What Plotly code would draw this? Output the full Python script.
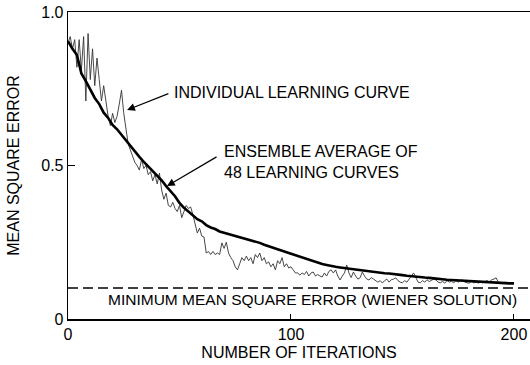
import plotly.graph_objects as go

# ---- data ----
# Individual learning curve (one adaptive run)
indiv_x = list(range(0, 201))
indiv_y = [
    0.90, 0.92, 0.88, 0.91, 0.82, 0.91, 0.81, 0.92, 0.71, 0.93,
    0.78, 0.88, 0.76, 0.85, 0.78, 0.71, 0.76, 0.70, 0.66, 0.63,
    0.67, 0.64, 0.66, 0.70, 0.745, 0.67, 0.62, 0.57, 0.55, 0.53,
    0.51, 0.50, 0.485, 0.52, 0.49, 0.50, 0.47, 0.48, 0.45, 0.47,
    0.44, 0.475, 0.42, 0.39, 0.41, 0.37, 0.365, 0.38, 0.36, 0.35,
    0.37, 0.33, 0.35, 0.37, 0.36, 0.365, 0.34, 0.31, 0.28, 0.296,
    0.27, 0.267, 0.215, 0.22, 0.21, 0.22, 0.21, 0.215, 0.21, 0.248,
    0.23, 0.25, 0.215, 0.20, 0.19, 0.17, 0.16, 0.18, 0.20, 0.19,
    0.205, 0.19, 0.20, 0.18, 0.21, 0.20, 0.215, 0.19, 0.20, 0.18,
    0.186, 0.17, 0.18, 0.16, 0.19, 0.18, 0.20, 0.17, 0.18, 0.166,
    0.17, 0.16, 0.15, 0.15, 0.143, 0.15, 0.145, 0.155, 0.14, 0.15,
    0.153, 0.14, 0.145, 0.14, 0.137, 0.15, 0.14, 0.155, 0.16, 0.15,
    0.16, 0.14, 0.127, 0.14, 0.15, 0.176, 0.15, 0.135, 0.153, 0.14,
    0.13, 0.134, 0.153, 0.14, 0.13, 0.127, 0.135, 0.13, 0.125, 0.12,
    0.125, 0.117, 0.125, 0.13, 0.12, 0.128, 0.13, 0.134, 0.125, 0.12,
    0.118, 0.125, 0.12, 0.13, 0.14, 0.15, 0.135, 0.12, 0.118, 0.125,
    0.12, 0.128, 0.122, 0.125, 0.13, 0.127, 0.12, 0.118, 0.122, 0.117,
    0.125, 0.12, 0.123, 0.118, 0.125, 0.12, 0.125, 0.127, 0.12, 0.118,
    0.117, 0.122, 0.118, 0.12, 0.117, 0.12, 0.118, 0.122, 0.125, 0.12,
    0.128, 0.13, 0.134, 0.12, 0.117, 0.118, 0.12, 0.117, 0.118, 0.117,
    0.117,
]

# Ensemble average of 48 learning curves
ens_x = list(range(0, 201, 2))
ens_y = [
    0.905, 0.88, 0.86, 0.80, 0.775, 0.745, 0.72, 0.70, 0.672, 0.655,
    0.632, 0.618, 0.60, 0.583, 0.562, 0.545, 0.528, 0.512, 0.497, 0.483,
    0.47, 0.452, 0.433, 0.418, 0.40, 0.378, 0.362, 0.35, 0.336, 0.325,
    0.318, 0.306, 0.298, 0.293, 0.285, 0.281, 0.276, 0.273, 0.268, 0.266,
    0.262, 0.258, 0.252, 0.248, 0.242, 0.238, 0.232, 0.227, 0.222, 0.217,
    0.212, 0.208, 0.203, 0.197, 0.192, 0.187, 0.183, 0.179, 0.176, 0.172,
    0.170, 0.168, 0.166, 0.164, 0.161, 0.159, 0.157, 0.155, 0.153, 0.151,
    0.150, 0.149, 0.148, 0.147, 0.145, 0.143, 0.141, 0.139, 0.137, 0.136,
    0.135, 0.134, 0.132, 0.131, 0.130, 0.128, 0.127, 0.126, 0.125, 0.124,
    0.123, 0.122, 0.121, 0.120, 0.119, 0.118, 0.118, 0.117, 0.117, 0.116,
    0.116,
]

# Minimum mean square error (Wiener solution)
wiener_mse = 0.101
wiener_x = [0, 207]

x_tick_vals = [0, 100, 200]
x_tick_text = ["0", "100", "200"]
y_tick_vals = [0, 0.5, 1.0]
y_tick_text = ["0", "0.5", "1.0"]

FONT = "Liberation Sans, Arial, Helvetica, sans-serif"

fig = go.Figure()
fig.add_trace(go.Scatter(x=wiener_x, y=[wiener_mse] * len(wiener_x), mode="lines",
                         line=dict(color="black", width=1.6, dash="10px,5px"),
                         hoverinfo="skip", showlegend=False))
fig.add_trace(go.Scatter(x=indiv_x, y=indiv_y, mode="lines",
                         line=dict(color="#333333", width=0.9),
                         name="Individual learning curve", showlegend=False))
fig.add_trace(go.Scatter(x=ens_x, y=ens_y, mode="lines",
                         line=dict(color="black", width=2.6),
                         name="Ensemble average", showlegend=False))

ann_font = dict(family=FONT, size=16, color="black")
annotations = [
    dict(x=46.6, y=0.739, text="INDIVIDUAL LEARNING CURVE", showarrow=False,
         xanchor="left", yanchor="middle", font=ann_font),
    dict(x=69.0, y=0.513, text="ENSEMBLE AVERAGE OF<br>48 LEARNING CURVES", showarrow=False,
         xanchor="left", yanchor="middle", align="left", font=ann_font),
    dict(x=17.0, y=0.065, text="MINIMUM MEAN SQUARE ERROR (WIENER SOLUTION)", showarrow=False,
         xanchor="left", yanchor="middle", font=dict(family=FONT, size=15.5, color="black")),
    dict(x=26.5, y=0.681, ax=45.7, ay=0.736, axref="x", ayref="y", text="",
         showarrow=True, arrowhead=2, arrowsize=1.3, arrowwidth=1.2, arrowcolor="black"),
    dict(x=44.4, y=0.433, ax=67.3, ay=0.531, axref="x", ayref="y", text="",
         showarrow=True, arrowhead=2, arrowsize=1.3, arrowwidth=1.2, arrowcolor="black"),
]

fig.update_layout(
    width=530, height=365,
    margin=dict(l=68, r=0, t=12, b=46, autoexpand=False),
    paper_bgcolor="white", plot_bgcolor="white",
    font=dict(family=FONT, size=16, color="black"),
    annotations=annotations,
    hovermode=False,
    xaxis=dict(range=[0, 207.2], showgrid=False, zeroline=False, automargin=False,
               showline=True, linecolor="black", linewidth=1.5, mirror=True,
               tickvals=x_tick_vals, ticktext=x_tick_text, ticklabeloverflow="allow",
               ticks="inside", ticklen=5, tickwidth=1, tickcolor="black",
               title=dict(text="NUMBER OF ITERATIONS", standoff=5,
                          font=dict(family=FONT, size=16))),
    yaxis=dict(range=[0, 1.0], showgrid=False, zeroline=False, automargin=False,
               showline=True, linecolor="black", linewidth=1.3,
               tickvals=y_tick_vals, ticktext=y_tick_text, ticklabeloverflow="allow",
               ticks="inside", ticklen=7, tickwidth=1, tickcolor="black",
               title=dict(text="MEAN SQUARE ERROR", standoff=17,
                          font=dict(family=FONT, size=16))),
)

# remove the default page margin so the 530x365 figure fills the window exactly
fig.write_html("out.html",
               config={"displayModeBar": False, "staticPlot": True},
               post_script="document.body.style.margin='0';document.body.style.overflow='hidden';")
